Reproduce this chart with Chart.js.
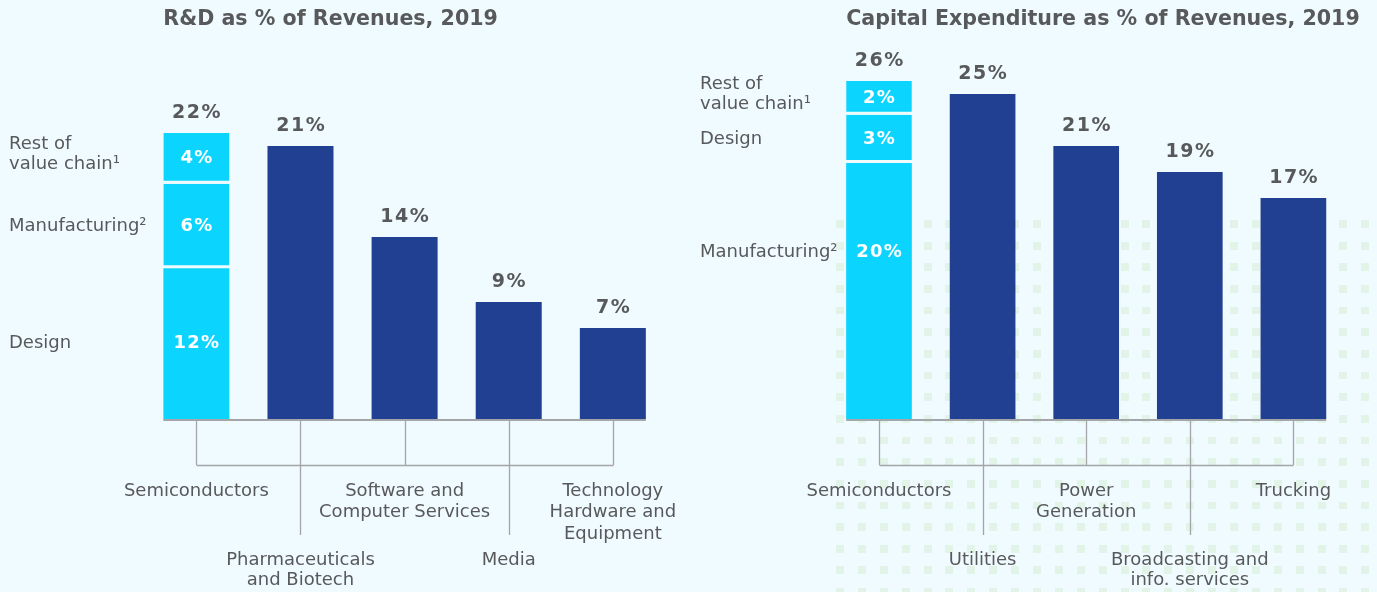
<!DOCTYPE html>
<html>
<head>
<meta charset="utf-8">
<script src="https://cdn.jsdelivr.net/npm/chart.js@4.4.1/dist/chart.umd.min.js"></script>
<style>
html,body{margin:0;padding:0;background:#f0fbff;width:1377px;height:592px;overflow:hidden;position:relative}
#dots{position:absolute;left:836px;top:220px;right:0;bottom:0;
background-image:url("data:image/svg+xml,%3Csvg xmlns='http://www.w3.org/2000/svg' width='22' height='22'%3E%3Crect width='8' height='8' fill='%23e2f3e7'/%3E%3C/svg%3E");
background-size:21.9px 21.67px}
.c{position:absolute;top:0;height:592px}
canvas{display:block}
</style>
</head>
<body>
<div id="dots"></div>
<div class="c" style="left:0;width:690px"><canvas id="rd" width="690" height="592"></canvas></div>
<div class="c" style="left:690px;width:687px"><canvas id="capex" width="687" height="592"></canvas></div>
<script>
// ---------- DATA ----------
const rdTitle = "R&D as % of Revenues, 2019";
const rdCategories = [["Semiconductors"],["Pharmaceuticals","and Biotech"],["Software and","Computer Services"],["Media"],["Technology","Hardware and","Equipment"]];
const rdTotalLabels = ["22%","21%","14%","9%","7%"];
const rdIndustryValues = [null,21,14,9,7];
const rdSemiSegmentNames = [["Design"],["Manufacturing²"],["Rest of","value chain¹"]];
const rdSemiSegmentValues = [11.6,6.5,3.9];
const rdSemiSegmentLabels = ["12%","6%","4%"];

const capexTitle = "Capital Expenditure as % of Revenues, 2019";
const capexCategories = [["Semiconductors"],["Utilities"],["Power","Generation"],["Broadcasting and","info. services"],["Trucking"]];
const capexTotalLabels = ["26%","25%","21%","19%","17%"];
const capexIndustryValues = [null,25,21,19,17];
const capexSemiSegmentNames = [["Manufacturing²"],["Design"],["Rest of","value chain¹"]];
const capexSemiSegmentValues = [19.7,3.7,2.6];
const capexSemiSegmentLabels = ["20%","3%","2%"];

// ---------- STYLE ----------
const CYAN = '#0bd4ff';
const NAVY = '#214091';
const TEXT = '#58595b';
const LINE = '#a3a5a8';
const BOLD = '"DejaVu Sans", sans-serif';
const REG = '"DejaVu Sans", sans-serif';

function txt(ctx, s, x, y, spacing) {
  ctx.letterSpacing = spacing + 'px';
  let dx = 0;
  if (ctx.textAlign === 'center') dx = spacing / 2;
  ctx.fillText(s, x + dx, y);
  ctx.letterSpacing = '0px';
}

const deco = {
  id: 'deco',
  afterDatasetsDraw(chart, args, o) {
    const ctx = chart.ctx;
    const xs = chart.scales.x, ys = chart.scales.y;
    const base = ys.getPixelForValue(0);
    const n = o.categories.length;
    const segCount = o.segValues.length;
    const indIdx = segCount;
    const barOf = (i) => i === 0 ? chart.getDatasetMeta(0).data[0] : chart.getDatasetMeta(indIdx).data[i];
    const firstBar = barOf(0), lastBar = barOf(n - 1);
    ctx.save();
    // baseline
    ctx.strokeStyle = LINE;
    ctx.lineWidth = 2;
    ctx.beginPath();
    ctx.moveTo(firstBar.x - firstBar.width / 2, base + 1);
    ctx.lineTo(lastBar.x + lastBar.width / 2, base + 1);
    ctx.stroke();
    // bracket
    ctx.lineWidth = 1.3;
    ctx.beginPath();
    const bracketY = base + 46, longY = base + 116;
    for (let i = 0; i < n; i++) {
      const cx = Math.round(xs.getPixelForValue(i)) + 0.5;
      ctx.moveTo(cx, base + 2);
      ctx.lineTo(cx, i % 2 ? longY : bracketY);
    }
    ctx.moveTo(Math.round(xs.getPixelForValue(0)) + 0.5, bracketY + 0.5);
    ctx.lineTo(Math.round(xs.getPixelForValue(n - 1)) + 0.5, bracketY + 0.5);
    ctx.stroke();
    // category labels
    ctx.fillStyle = TEXT;
    ctx.font = '18px ' + REG;
    ctx.textAlign = 'center';
    ctx.textBaseline = 'middle';
    for (let i = 0; i < n; i++) {
      const cx = xs.getPixelForValue(i);
      const y0 = i % 2 ? base + 141 : base + 72;
      const step = i % 2 ? 20.5 : 21.5;
      o.categories[i].forEach((line, k) => ctx.fillText(line, cx, y0 + k * step));
    }
    // title
    ctx.font = 'bold 20.6px ' + BOLD;
    ctx.textAlign = 'left';
    ctx.fillText(o.title, firstBar.x - firstBar.width / 2, 19.5);
    // totals
    ctx.font = 'bold 19px ' + BOLD;
    ctx.textAlign = 'center';
    for (let i = 0; i < n; i++) {
      let top;
      if (i === 0) top = chart.getDatasetMeta(segCount - 1).data[0].y;
      else top = barOf(i).y;
      txt(ctx, o.totals[i], xs.getPixelForValue(i), top - 20, 1.5);
    }
    // segment labels + side labels
    for (let s = 0; s < segCount; s++) {
      const el = chart.getDatasetMeta(s).data[0];
      const top = el.y, bottom = el.base;
      const yy = Math.min((top + bottom) / 2, top + 89);
      ctx.fillStyle = '#ffffff';
      ctx.font = 'bold 18px ' + BOLD;
      ctx.textAlign = 'center';
      txt(ctx, o.segLabels[s], el.x, yy, 1.2);
      ctx.fillStyle = TEXT;
      ctx.font = '18px ' + REG;
      ctx.textAlign = 'left';
      const lines = o.segNames[s];
      const lh = 20;
      const start = yy - (lines.length - 1) * lh / 2 - (lines.length > 1 ? 4 : 0);
      lines.forEach((line, k) => ctx.fillText(line, o.sideX, start + k * lh));
    }
    ctx.restore();
  }
};

function makeChart(id, cfg) {
  const n = cfg.categories.length;
  const datasets = cfg.segValues.map((v, s) => ({
    label: cfg.segNames[s].join(' '),
    data: [v].concat(new Array(n - 1).fill(null)),
    backgroundColor: CYAN,
    borderColor: 'rgba(0,0,0,0)',
    borderWidth: s === 0 ? 0 : {top: 0, left: 0, right: 0, bottom: 3},
    borderSkipped: false,
    stack: 's'
  }));
  datasets.push({
    label: 'Industry',
    data: cfg.industry,
    backgroundColor: NAVY,
    borderWidth: 0,
    stack: 's'
  });
  return new Chart(document.getElementById(id), {
    type: 'bar',
    data: { labels: cfg.categories.map(c => c.join(' ')), datasets },
    options: {
      responsive: false,
      animation: false,
      devicePixelRatio: 1,
      layout: { padding: cfg.padding },
      datasets: { bar: { categoryPercentage: 1, barPercentage: 0.634 } },
      scales: {
        x: { stacked: true, display: false },
        y: { stacked: true, display: false, min: 0, max: 30 }
      },
      plugins: {
        legend: { display: false },
        tooltip: { enabled: false },
        deco: {
          title: cfg.title, categories: cfg.categories, totals: cfg.totals,
          segValues: cfg.segValues, segLabels: cfg.segLabels, segNames: cfg.segNames,
          sideX: cfg.sideX
        }
      }
    },
    plugins: [deco]
  });
}

makeChart('rd', {
  title: rdTitle, categories: rdCategories, totals: rdTotalLabels, industry: rdIndustryValues,
  segValues: rdSemiSegmentValues, segLabels: rdSemiSegmentLabels, segNames: rdSemiSegmentNames,
  sideX: 9, padding: { left: 144.3, right: 25.1, top: 29, bottom: 173 }
});
makeChart('capex', {
  title: capexTitle, categories: capexCategories, totals: capexTotalLabels, industry: capexIndustryValues,
  segValues: capexSemiSegmentValues, segLabels: capexSemiSegmentLabels, segNames: capexSemiSegmentNames,
  sideX: 10, padding: { left: 137.2, right: 31.8, top: 29, bottom: 173 }
});
</script>
</body>
</html>
